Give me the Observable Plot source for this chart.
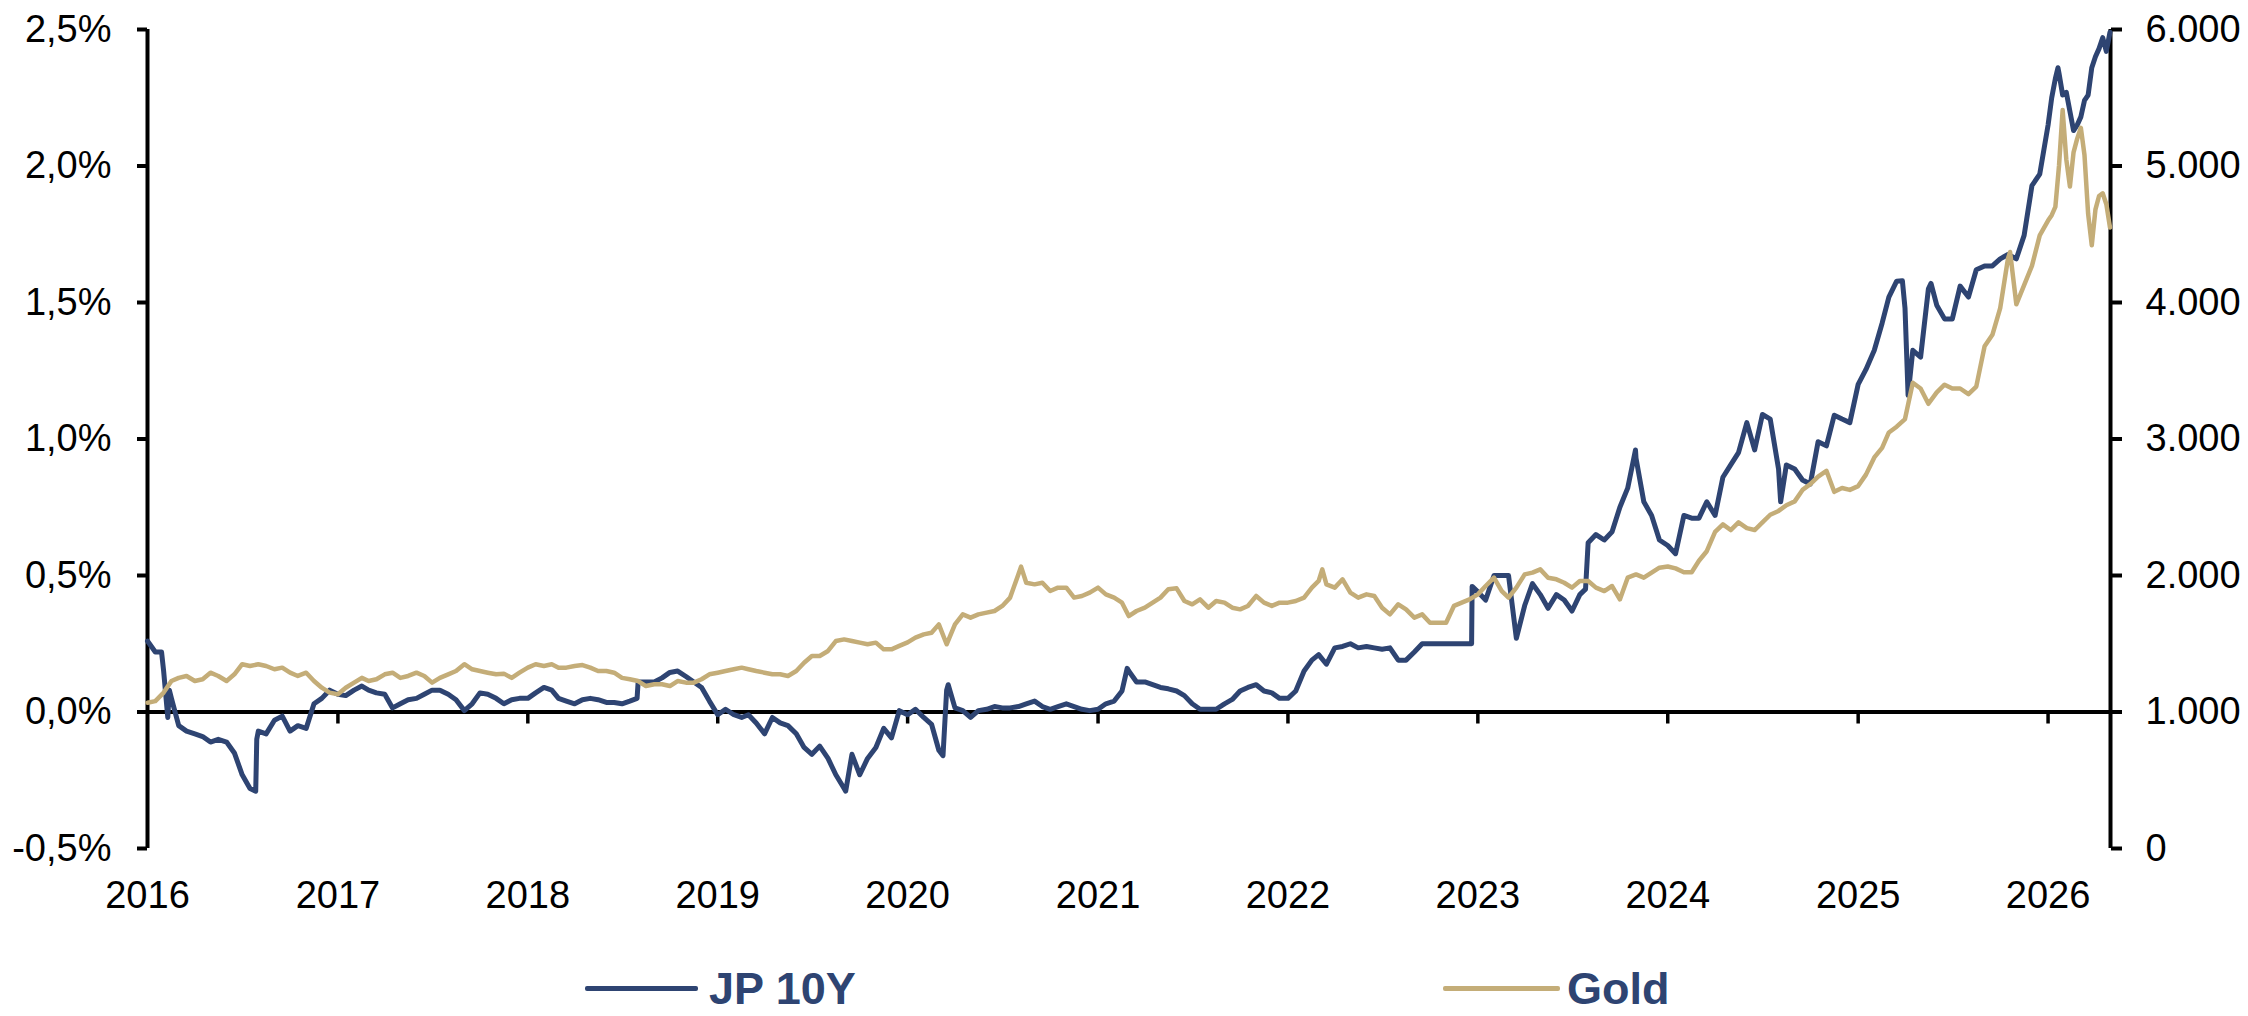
<!DOCTYPE html>
<html>
<head>
<meta charset="utf-8">
<script src="https://cdn.jsdelivr.net/npm/d3@7"></script>
<script src="https://cdn.jsdelivr.net/npm/@observablehq/plot@0.6"></script>
<style>
  html, body { margin: 0; padding: 0; background: #fff; }
  #wrap { position: relative; width: 2248px; height: 1016px; font-family: "Liberation Sans", Arial, sans-serif; }
  #chart { position: absolute; left: 0; top: 0; }
  .sw { position: absolute; height: 5px; border-radius: 2px; }
  .lt { position: absolute; font-weight: bold; font-size: 45px; line-height: 50px; color: #2E4472; white-space: nowrap; }
</style>
</head>
<body>
<div id="wrap">
  <div id="chart"></div>
  <div class="sw" style="left:585px;top:986px;width:113px;background:#2E4472"></div>
  <div class="lt" style="left:709px;top:964px">JP 10Y</div>
  <div class="sw" style="left:1443px;top:986px;width:117px;background:#C4AD78"></div>
  <div class="lt" style="left:1567px;top:964px">Gold</div>
</div>
<script>
// JP 10Y yield (%) — semi-monthly readings (1st and 16th of each month)
const jp2016 = [0.26,0.22,0.15,0.05,-0.05,-0.07,-0.08,-0.09,-0.11,-0.10,-0.11,-0.15,-0.23,-0.28,-0.07,-0.08,-0.03,-0.015,-0.07,-0.05,-0.06,0.03,0.05,0.08];
const jp2017 = [0.065,0.06,0.08,0.095,0.08,0.07,0.065,0.015,0.03,0.045,0.05,0.065,0.08,0.08,0.065,0.045,0.005,0.03,0.07,0.065,0.05,0.03,0.045,0.05];
const jp2018 = [0.05,0.07,0.09,0.08,0.05,0.04,0.03,0.045,0.05,0.045,0.035,0.035,0.03,0.04,0.11,0.11,0.11,0.125,0.145,0.15,0.13,0.11,0.09,0.04];
const jp2019 = [-0.01,0.01,-0.01,-0.02,-0.01,-0.04,-0.08,-0.02,-0.04,-0.05,-0.08,-0.13,-0.155,-0.125,-0.17,-0.23,-0.28,-0.155,-0.23,-0.17,-0.13,-0.06,-0.095,0.005];
const jp2020 = [-0.01,0.01,-0.02,-0.045,-0.14,0.08,0.015,0.005,-0.02,0.005,0.01,0.02,0.015,0.015,0.02,0.03,0.04,0.02,0.01,0.02,0.03,0.02,0.01,0.005];
const jp2021 = [0.01,0.03,0.04,0.077,0.15,0.11,0.11,0.10,0.09,0.085,0.077,0.06,0.03,0.01,0.01,0.01,0.03,0.046,0.077,0.09,0.10,0.077,0.07,0.05];
const jp2022 = [0.05,0.077,0.15,0.19,0.21,0.175,0.235,0.24,0.25,0.235,0.24,0.235,0.23,0.235,0.19,0.19,0.22,0.25,0.25,0.25,0.25,0.25,0.25,0.25];
const jp2023 = [0.44,0.41,0.50,0.50,0.50,0.27,0.39,0.47,0.43,0.38,0.43,0.41,0.37,0.43,0.62,0.65,0.63,0.66,0.75,0.82,0.93,0.77,0.72,0.63];
const jp2024 = [0.61,0.58,0.72,0.71,0.71,0.77,0.72,0.86,0.905,0.95,1.06,0.96,1.09,1.073,0.89,0.905,0.89,0.85,0.835,0.99,0.975,1.087,1.073,1.06];
const jp2025 = [1.20,1.255,1.325,1.424,1.52,1.578,1.48,1.325,1.30,1.55,1.49,1.44,1.44,1.56,1.52,1.62,1.634,1.634,1.66,1.676,1.66,1.746,1.928,1.97];
// 2026 — weekly readings from 1 January
const jp2026w = [2.15,2.25,2.32,2.34,2.26,2.27,2.20,2.13,2.15,2.18,2.24,2.26,2.36,2.40,2.43,2.47,2.42,2.49];
// Extra readings at visible spikes
const jpExtraDates = ["2016-01-28","2016-02-09","2016-02-12","2016-07-27","2016-07-29","2018-07-30","2019-09-04","2020-03-09","2020-03-19","2021-02-26","2022-12-20","2022-12-21","2023-07-27","2023-10-31","2024-08-05","2025-03-27","2025-04-07","2025-05-21","2026-01-20"];
const jpExtraValues = [0.22,-0.02,0.08,-0.29,-0.10,0.05,-0.29,-0.16,0.10,0.16,0.25,0.46,0.45,0.96,0.77,1.58,1.16,1.57,2.36];

// Gold (USD/oz) — semi-monthly readings
const gold2016 = [1068,1080,1142,1227,1250,1264,1227,1240,1288,1264,1227,1276,1350,1337,1350,1337,1313,1325,1288,1264,1288,1227,1178,1142];
const gold2017 = [1130,1178,1215,1250,1227,1240,1276,1288,1250,1264,1288,1264,1215,1250,1276,1300,1350,1313,1300,1288,1276,1281,1250,1288];
const gold2018 = [1325,1350,1337,1350,1325,1325,1337,1344,1325,1300,1300,1288,1250,1240,1227,1190,1203,1203,1190,1227,1215,1215,1240,1276];
const gold2019 = [1288,1300,1313,1325,1313,1300,1288,1276,1276,1264,1300,1361,1410,1410,1447,1520,1532,1520,1508,1496,1508,1459,1459,1484];
const gold2020 = [1510,1545,1569,1581,1642,1496,1642,1715,1691,1715,1728,1740,1777,1838,2010,1947,1935,1947,1886,1911,1911,1838,1850,1874];
const gold2021 = [1911,1862,1838,1801,1703,1740,1764,1801,1838,1899,1906,1813,1789,1825,1764,1813,1801,1764,1752,1777,1850,1801,1777,1801];
const gold2022 = [1801,1813,1838,1911,1960,1935,1911,1972,1874,1838,1862,1850,1764,1715,1789,1752,1691,1715,1654,1654,1654,1777,1801,1825];
const gold2023 = [1862,1923,1984,1886,1838,1911,2008,2021,2045,1984,1972,1947,1911,1960,1960,1911,1886,1923,1825,1984,2008,1984,2021,2057];
const gold2024 = [2066,2052,2024,2024,2108,2178,2319,2375,2333,2389,2347,2333,2389,2445,2473,2515,2543,2627,2669,2725,2767,2613,2641,2627];
const gold2025 = [2655,2739,2865,2935,3048,3090,3146,3412,3370,3258,3342,3398,3370,3370,3328,3384,3679,3763,3959,4323,3987,4127,4268,4492];
const gold2026w = [4600,4640,4700,5000,5410,5050,4850,5100,5200,5280,5080,4650,4420,4680,4780,4800,4720,4550];
const goldExtraDates = ["2020-08-06","2022-03-08","2025-10-20"];
const goldExtraValues = [2065,2045,4370];

const yearList = [2016,2017,2018,2019,2020,2021,2022,2023,2024,2025];
const jpYears = [jp2016,jp2017,jp2018,jp2019,jp2020,jp2021,jp2022,jp2023,jp2024,jp2025];
const goldYears = [gold2016,gold2017,gold2018,gold2019,gold2020,gold2021,gold2022,gold2023,gold2024,gold2025];

const leftTicks = [-0.5, 0, 0.5, 1, 1.5, 2, 2.5];
const yearTicks = [2016,2017,2018,2019,2020,2021,2022,2023,2024,2025,2026].map(y => new Date(Date.UTC(y, 0, 1)));

const navy = "#2E4472";
const goldColor = "#C4AD78";

function semiDate(year, i) { return new Date(Date.UTC(year, Math.floor(i / 2), i % 2 ? 16 : 1)); }
function weekDate(i) { return new Date(Date.UTC(2026, 0, 1 + 7 * i)); }

function buildRows(yearArrays, last, exDates, exValues, conv) {
  const rows = [];
  yearArrays.forEach((arr, k) => arr.forEach((v, i) => rows.push({date: semiDate(yearList[k], i), v: conv(v)})));
  last.forEach((v, i) => rows.push({date: weekDate(i), v: conv(v)}));
  exDates.forEach((d, i) => rows.push({date: new Date(d + "T00:00:00Z"), v: conv(exValues[i])}));
  rows.sort((a, b) => a.date - b.date);
  return rows;
}
const jpRows = buildRows(jpYears, jp2026w, jpExtraDates, jpExtraValues, v => v);
// Gold shares the chart area: 1.000 ↔ 0,0% and 6.000 ↔ 2,5%
const goldToLeft = g => (g - 1000) / 2000;
const leftToGold = v => 1000 + 2000 * v;
const goldRows = buildRows(goldYears, gold2026w, goldExtraDates, goldExtraValues, goldToLeft);

const xStart = new Date(Date.UTC(2016, 0, 1));
const xEnd = new Date(Date.UTC(2026, 4, 1));

const fmtPct = v => v.toFixed(1).replace(".", ",") + "%";
const fmtGold = v => {
  const g = Math.round(leftToGold(v));
  return g === 0 ? "0" : d3.format(",")(g).replace(/,/g, ".");
};

const chart = Plot.plot({
  width: 2248,
  height: 930,
  marginTop: 29,
  marginBottom: 82,
  marginLeft: 147,
  marginRight: 138,
  style: {fontFamily: '"Liberation Sans", Arial, sans-serif', fontSize: "38px", color: "#000", background: "#fff", overflow: "visible"},
  x: {type: "utc", domain: [xStart, xEnd]},
  y: {domain: [-0.5, 2.5]},
  marks: [
    Plot.axisY(leftTicks, {anchor: "left", label: null, tickSize: 10, tickPadding: 26, strokeWidth: 4, tickFormat: fmtPct, fontSize: 38}),
    Plot.axisY(leftTicks, {anchor: "right", label: null, tickSize: 11, tickPadding: 24, strokeWidth: 4, tickFormat: fmtGold, fontSize: 38}),
    Plot.axisX(yearTicks, {anchor: "bottom", label: null, tickSize: 0, tickPadding: 33, tickFormat: d => String(d.getUTCFullYear()), fontSize: 38}),
    Plot.ruleX(yearTicks.slice(1), {x: d => d, y1: 0, y2: -0.044, stroke: "#000", strokeWidth: 3.5}),
    Plot.ruleY([0], {stroke: "#000", strokeWidth: 4}),
    Plot.ruleX([xStart, xEnd], {x: d => d, y1: -0.5, y2: 2.5, stroke: "#000", strokeWidth: 4}),
    Plot.line(jpRows, {x: "date", y: "v", stroke: navy, strokeWidth: 5}),
    Plot.line(goldRows, {x: "date", y: "v", stroke: goldColor, strokeWidth: 4.5})
  ]
});
document.getElementById("chart").appendChild(chart);
</script>
</body>
</html>
